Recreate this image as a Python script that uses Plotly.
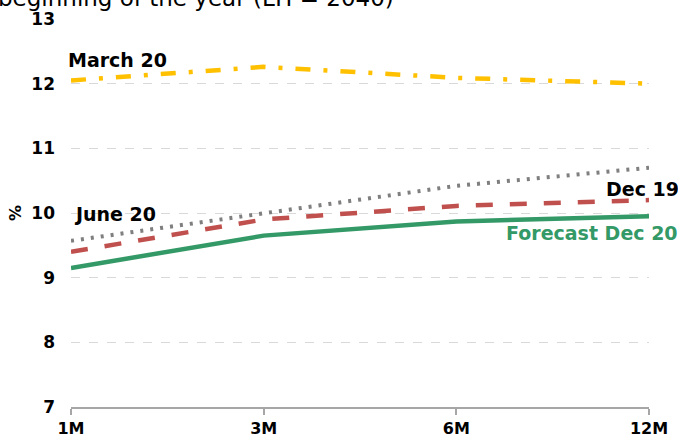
import plotly.graph_objects as go

categories = ["1M", "3M", "6M", "12M"]
march20 = [12.05, 12.26, 12.09, 12.0]
june20 = [9.57, 10.0, 10.42, 10.7]
dec19 = [9.4, 9.9, 10.11, 10.2]
forecast_dec20 = [9.15, 9.65, 9.87, 9.95]
y_ticks = [7, 8, 9, 10, 11, 12, 13]

FONT = "DejaVu Sans"
W, H = 678, 436
L, R, T, B = 71, 29, 19, 29
pw, ph = W - L - R, H - T - B

fig = go.Figure()
fig.add_trace(go.Scatter(x=categories, y=march20, mode="lines",
                         line=dict(color="#FFC000", width=4.5, dash="15px,13px,4px,13px")))
fig.add_trace(go.Scatter(x=categories, y=june20, mode="lines",
                         line=dict(color="#7F7F7F", width=4, dash="3px,7px")))
fig.add_trace(go.Scatter(x=categories, y=dec19, mode="lines",
                         line=dict(color="#C0504D", width=4.5, dash="17px,17px")))
fig.add_trace(go.Scatter(x=categories, y=forecast_dec20, mode="lines",
                         line=dict(color="#339966", width=4.5)))

def px_x(p):
    return (p - L) / pw

def px_y(p):
    return 1 - (p - T) / ph

annots = [
    dict(text="<b>March 20</b>", x=px_x(66), y=px_y(60), color="#000000", xanchor="left"),
    dict(text="<b>June 20</b>", x=px_x(72), y=px_y(214), color="#000000", xanchor="left"),
    dict(text="<b>Dec 19</b>", x=px_x(681), y=px_y(189), color="#000000", xanchor="right"),
    dict(text="<b>Forecast Dec 20</b>", x=px_x(680), y=px_y(233), color="#339966", xanchor="right"),
]
for a in annots:
    fig.add_annotation(text=a["text"], x=a["x"], y=a["y"], xref="paper", yref="paper",
                       xanchor=a["xanchor"], yanchor="middle", showarrow=False,
                       font=dict(family=FONT, size=19, color=a["color"]))

fig.add_annotation(text="beginning of the year (LTI = 2040)", x=px_x(-4), y=px_y(-2),
                   xref="paper", yref="paper", xanchor="left", yanchor="middle",
                   showarrow=False, font=dict(family=FONT, size=23, color="#000000"))

fig.update_layout(
    width=W, height=H,
    margin=dict(l=L, r=R, t=T, b=B, autoexpand=False),
    paper_bgcolor="white", plot_bgcolor="white",
    showlegend=False,
    font=dict(family=FONT, color="#000000"),
)
fig.update_xaxes(
    type="category", range=[0, 3], showgrid=False, automargin=False,
    showline=True, linecolor="#A6A6A6", linewidth=1.5,
    ticks="outside", ticklen=6, tickcolor="#A6A6A6", tickwidth=1.5,
    tickfont=dict(family=FONT, size=16, color="#000000", weight="bold"),
    zeroline=False,
)
fig.update_yaxes(
    range=[7, 13], tickvals=y_ticks, ticktext=[f"<b>{v}</b>" for v in y_ticks],
    showgrid=True, gridcolor="#D9D9D9", griddash="dash", gridwidth=1, automargin=False,
    showline=False, zeroline=False, ticks="", ticklabelstandoff=15,
    tickfont=dict(family=FONT, size=17, color="#000000"),
    title=dict(text="<b>%</b>", font=dict(family=FONT, size=16, color="#000000"), standoff=5),
)

fig.write_html("out.html")
